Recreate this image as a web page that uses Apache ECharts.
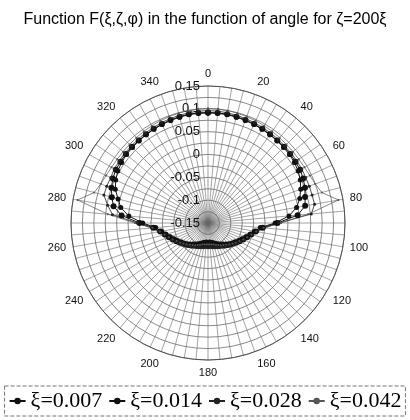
<!DOCTYPE html>
<html>
<head>
<meta charset="utf-8">
<script src="https://cdn.jsdelivr.net/npm/echarts@6/dist/echarts.min.js"></script>
<style>
  html, body { margin: 0; padding: 0; background: #fff; }
  #chart { width: 410px; height: 420px; }
</style>
</head>
<body>
<div id="chart"></div>
<script>
// Angles (degrees), one sample every 5 degrees, closed at 360
const angles = [0,5,10,15,20,25,30,35,40,45,50,55,60,65,70,75,80,85,90,95,100,105,110,115,120,125,130,135,140,145,150,155,160,165,170,175,180,
  185,190,195,200,205,210,215,220,225,230,235,240,245,250,255,260,265,270,275,280,285,290,295,300,305,310,315,320,325,330,335,340,345,350,355,360];

const seriesNames = ['ξ=0.007', 'ξ=0.014', 'ξ=0.028', 'ξ=0.042'];

const f007 = [0.091,0.091,0.091,0.090,0.089,0.088,0.087,0.086,0.085,0.084,0.083,0.081,0.078,0.073,0.066,0.058,0.047,0.028,-0.003,-0.035,-0.047,-0.055,-0.062,-0.068,-0.073,-0.078,-0.082,-0.086,-0.090,-0.094,-0.097,-0.100,-0.103,-0.105,-0.107,-0.108,-0.108,
  -0.108,-0.107,-0.105,-0.103,-0.100,-0.097,-0.094,-0.090,-0.086,-0.082,-0.078,-0.073,-0.068,-0.062,-0.055,-0.047,-0.035,-0.007,0.024,0.044,0.054,0.066,0.073,0.078,0.081,0.083,0.084,0.085,0.086,0.087,0.088,0.089,0.090,0.091,0.091,0.091];

const f014 = [0.092,0.092,0.092,0.091,0.090,0.089,0.088,0.087,0.086,0.086,0.085,0.084,0.083,0.080,0.076,0.070,0.066,0.047,0.002,-0.030,-0.044,-0.052,-0.059,-0.065,-0.070,-0.075,-0.079,-0.083,-0.087,-0.090,-0.093,-0.095,-0.097,-0.099,-0.100,-0.101,-0.101,
  -0.101,-0.100,-0.099,-0.097,-0.095,-0.093,-0.090,-0.087,-0.083,-0.079,-0.075,-0.070,-0.065,-0.059,-0.052,-0.044,-0.030,0.000,0.040,0.060,0.068,0.075,0.080,0.083,0.084,0.085,0.086,0.086,0.087,0.088,0.089,0.090,0.091,0.092,0.092,0.092];

const f028 = [0.096,0.096,0.095,0.094,0.093,0.092,0.091,0.090,0.089,0.088,0.088,0.087,0.087,0.086,0.086,0.086,0.087,0.077,0.005,-0.026,-0.040,-0.049,-0.056,-0.062,-0.067,-0.072,-0.076,-0.080,-0.083,-0.086,-0.089,-0.091,-0.093,-0.094,-0.095,-0.096,-0.096,
  -0.096,-0.095,-0.094,-0.093,-0.091,-0.089,-0.086,-0.083,-0.080,-0.076,-0.072,-0.067,-0.062,-0.056,-0.049,-0.040,-0.026,0.005,0.060,0.073,0.086,0.086,0.085,0.087,0.087,0.088,0.088,0.089,0.090,0.091,0.092,0.093,0.094,0.095,0.096,0.096];

const f042 = [0.101,0.101,0.100,0.099,0.098,0.097,0.096,0.095,0.094,0.093,0.093,0.093,0.094,0.096,0.100,0.108,0.140,0.070,0.010,-0.028,-0.043,-0.052,-0.059,-0.065,-0.071,-0.076,-0.080,-0.084,-0.088,-0.091,-0.094,-0.097,-0.099,-0.101,-0.102,-0.103,-0.103,
  -0.103,-0.102,-0.101,-0.099,-0.097,-0.094,-0.091,-0.088,-0.084,-0.080,-0.076,-0.071,-0.065,-0.059,-0.052,-0.043,-0.028,0.010,0.070,0.140,0.108,0.100,0.096,0.094,0.093,0.093,0.093,0.094,0.095,0.096,0.097,0.098,0.099,0.100,0.101,0.101];

const radiusTicks = [-0.15, -0.1, -0.05, 0, 0.05, 0.1, 0.15];

function pairs(vals) {
  return vals.map((v, i) => [v, angles[i]]);
}

const chart = echarts.init(document.getElementById('chart'), null, { renderer: 'canvas' });

const styles = [
  { symbol: 'circle', symbolSize: 5, lineWidth: 1, color: '#111' },
  { symbol: 'circle', symbolSize: 6, lineWidth: 1, color: '#111' },
  { symbol: 'circle', symbolSize: 3, lineWidth: 0.8, color: '#222' },
  { symbol: 'circle', symbolSize: 2, lineWidth: 0.7, color: '#555' }
];
const values = [f007, f014, f028, f042];

chart.setOption({
  animation: false,
  backgroundColor: '#fff',
  title: {
    text: 'Function F(ξ,ζ,φ) in the function of angle for ζ=200ξ',
    left: 'center',
    top: 7,
    textStyle: { fontFamily: 'Liberation Sans', fontSize: 16, fontWeight: 'normal', color: '#000' }
  },
  polar: { center: [208, 223], radius: 137 },
  angleAxis: {
    type: 'value',
    min: 0, max: 360, interval: 5,
    startAngle: 90, clockwise: true,
    axisLine: { lineStyle: { color: '#444', width: 0.8 } },
    axisTick: { show: false },
    axisLabel: {
      fontFamily: 'Liberation Sans', fontSize: 11, color: '#111', margin: 7,
      formatter: v => (v % 20 === 0 && v < 360) ? String(v) : ''
    },
    splitLine: { show: true, lineStyle: { color: '#666', width: 0.6 } }
  },
  radiusAxis: {
    type: 'value',
    min: -0.15, max: 0.15, interval: 0.025,
    axisLine: { show: false },
    axisTick: { show: false },
    axisLabel: {
      fontFamily: 'Liberation Sans', fontSize: 13, color: '#111',
      formatter: v => {
        const r = Math.round(v * 1000) / 1000;
        return radiusTicks.some(t => Math.abs(t - r) < 1e-6) ? String(r) : '';
      }
    },
    splitLine: { show: true, lineStyle: { color: '#555', width: 0.7 } }
  },
  legend: {
    bottom: 4,
    left: 'center',
    itemWidth: 16, itemHeight: 8, itemGap: 6,
    textStyle: { fontFamily: 'Liberation Serif', fontSize: 22, color: '#000' },
    borderColor: '#777', borderWidth: 1, borderType: 'dashed', padding: [4, 4]
  },
  series: values.map((vals, i) => ({
    name: seriesNames[i],
    type: 'line',
    coordinateSystem: 'polar',
    data: pairs(vals),
    symbol: styles[i].symbol,
    symbolSize: styles[i].symbolSize,
    showAllSymbol: true,
    itemStyle: { color: styles[i].color },
    lineStyle: { color: styles[i].color, width: styles[i].lineWidth }
  }))
});
</script>
</body>
</html>
